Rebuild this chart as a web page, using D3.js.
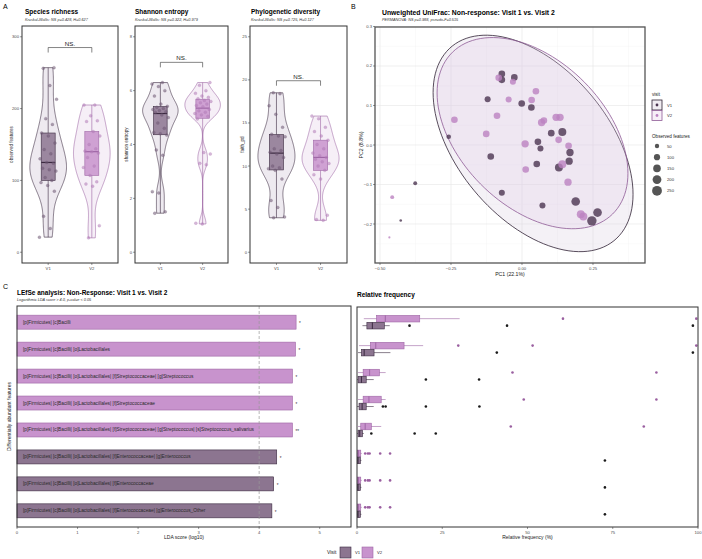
<!DOCTYPE html>
<html><head><meta charset="utf-8">
<script src="https://cdn.jsdelivr.net/npm/d3@7"></script>
<style>body{margin:0;background:#fff}svg{display:block}text{font-family:"Liberation Sans",Arial,Helvetica,sans-serif}</style>
</head><body><svg id="c" width="702" height="559"></svg>
<script>
// ---------------- DATA ----------------
const visits = ["V1", "V2"];
// Panel A alpha diversity (per-sample values)
const richnessV1 = [21,33,50,85,93,97,100,104,113,115,117,124,125,130,137,143,152,162,166,178,186,213,232,256,257];
const richnessV2 = [20,37,92,95,98,107,118,120,132,138,140,141,144,150,162,168,182,183,190,205,205];
const shannonV1 = [1.45,1.5,2.2,2.25,3.6,3.8,4.35,4.4,4.45,4.6,4.8,5.0,5.1,5.2,5.22,5.26,5.3,5.34,5.38,5.42,5.5,5.8,6.0,6.15,6.25,6.3];
const shannonV2 = [1.05,1.08,3.25,3.3,3.65,3.7,4.95,5.05,5.1,5.15,5.2,5.25,5.3,5.4,5.45,5.5,5.55,5.6,5.63,5.7,5.75,5.8,5.9,6.0,6.2,6.3];
const faithV1 = [4.0,4.1,5.2,6.0,8.5,9.5,9.7,9.8,10.0,11.0,11.4,11.6,11.8,12.0,13.4,13.5,13.7,14.5,16.0,17.0,18.4,18.5];
const faithV2 = [3.7,3.8,4.3,8.5,9.0,9.5,10.0,10.3,10.5,10.8,11.0,11.2,11.5,12.0,12.5,13.0,13.5,14.0,14.5,15.5,15.8];
const alphaTitles = ["Species richness", "Shannon entropy", "Phylogenetic diversity"];
const alphaSubtitles = ["Kruskal-Wallis: NS p=0.428, H=0.627", "Kruskal-Wallis: NS p=0.322, H=0.979", "Kruskal-Wallis: NS p=0.725, H=0.127"];
const alphaYLabels = ["observed features", "shannon entropy", "faith_pd"];
const alphaTicks = [[0,100,200,300],[0,2,4,6,8],[0,5,10,15,20,25]];
const alphaBracket = [285, 7.05, 19.9];

// Panel B PCoA
const pc1V1 = [-0.071,-0.071,-0.027,-0.121,-0.001,0.033,-0.258,0.056,0.065,0.103,0.142,-0.110,0.052,0.169,0.166,0.130,-0.071,0.072,0.189,0.266,0.246,-0.376,-0.427];
const pc2V1 = [0.180,0.165,0.171,0.116,0.105,0.095,0.021,0.008,-0.009,0.030,0.033,-0.029,-0.048,-0.019,-0.041,-0.057,-0.121,-0.153,-0.143,-0.171,-0.192,-0.097,-0.191];
const obsV1 = [115,115,115,95,115,115,55,115,95,115,165,115,115,140,140,165,95,95,195,195,230,40,18];
const pc1V2 = [-0.082,-0.032,-0.238,-0.088,-0.047,0.034,0.049,-0.126,0.069,0.077,0.120,0.134,0.011,0.129,0.164,0.013,0.142,0.162,0.207,0.216,-0.457,-0.467];
const pc2V2 = [0.170,0.160,0.064,0.074,0.115,0.114,0.136,0.028,0.057,0.062,0.070,0.070,0.003,0.013,-0.002,-0.062,-0.049,-0.094,-0.175,-0.181,-0.132,-0.234];
const obsV2 = [115,95,115,115,95,115,115,115,140,115,140,140,140,115,115,115,165,140,165,165,40,12];
// 95% ellipses: [centre PC1, centre PC2, half-extent PC1, half-extent PC2, correlation]
const ellipseV1 = [0.039, 0.004, 0.352, 0.274, -0.47];
const ellipseV2 = [0.037, 0.030, 0.336, 0.242, -0.42];
const sizeLegend = [50,100,150,200,250];
const pcXTicks = [-0.5,-0.25,0,0.25];
const pcYTicks = [-0.2,-0.1,0,0.1,0.2,0.3];

// Panel C LEfSe
const features = [
 "[p]Firmicutes| [c]Bacilli",
 "[p]Firmicutes| [c]Bacilli| [o]Lactobacillales",
 "[p]Firmicutes| [c]Bacilli| [o]Lactobacillales| [f]Streptococcaceae| [g]Streptococcus",
 "[p]Firmicutes| [c]Bacilli| [o]Lactobacillales| [f]Streptococcaceae",
 "[p]Firmicutes| [c]Bacilli| [o]Lactobacillales| [f]Streptococcaceae| [g]Streptococcus| [s]Streptococcus_salivarius",
 "[p]Firmicutes| [c]Bacilli| [o]Lactobacillales| [f]Enterococcaceae| [g]Enterococcus",
 "[p]Firmicutes| [c]Bacilli| [o]Lactobacillales| [f]Enterococcaceae",
 "[p]Firmicutes| [c]Bacilli| [o]Lactobacillales| [f]Enterococcaceae| [g]Enterococcus_Other"];
const ldaScore = [4.61,4.60,4.55,4.55,4.55,4.29,4.24,4.21];
const enrichedIn = ["V2","V2","V2","V2","V2","V1","V1","V1"];
const signif = ["*","*","*","*","**","*","*","*"];
const ldaTicks = [0,1,2,3,4,5];
// Relative frequency (%) box summaries
const rfV2Low  = [2.0,0.6,0.3,0.3,0.3,0,0,0];
const rfV2Q1   = [5.7,3.9,1.8,1.8,1.1,0.1,0.1,0.1];
const rfV2Med  = [8.3,5.5,3.7,3.5,2.4,0.4,0.4,0.4];
const rfV2Q3   = [18.4,13.8,6.6,7.1,4.2,1.1,1.1,1.1];
const rfV2High = [30.1,19.4,8.4,8.4,7.1,1.4,1.4,1.4];
const rfV2Out  = [[60.4,99.5],[29.7,51.5,99.5],[45.6,87.8],[48.9,87.8],[45.1,84.1],[2.4,3.2,3.7,6.8,9.7],[2.4,3.2,3.7,6.8,9.7],[2.4,3.2,3.7,6.8,9.7]];
const rfV1Low  = [1.6,0.3,0,0,0,0,0,0];
const rfV1Q1   = [2.9,1.3,0.3,0.6,0.3,0.1,0.1,0.1];
const rfV1Med  = [4.5,2.1,1.3,1.5,0.8,0.3,0.3,0.3];
const rfV1Q3   = [8.0,5.0,2.7,2.7,1.6,1.0,1.0,1.0];
const rfV1High = [9.6,9.8,4.9,4.9,2.0,1.3,1.3,1.3];
const rfV1Out  = [[15.4,44.0,98.5],[41.0,98.5],[20.2,35.8],[7.6,8.4,20.2,35.9],[4.2,16.9,23.1],[72.7],[72.7],[72.7]];
const rfTicks = [0,25,50,75,100];

// ---------------- STYLE ----------------
const C = {
  v1Fill: "#8c7590", v1Line: "#3b2a40", v1Light: "#eeeaf0", v1Point: "#4b3550", v1Out: "#1a1a1a",
  v2Fill: "#c893cd", v2Line: "#9e66a5", v2Light: "#f6eff7", v2Point: "#bb82c1", v2Out: "#9a5fa0",
  frame: "#333333", tick: "#4d4d4d"
};
const svg = d3.select("#c");
svg.append("rect").attr("width",702).attr("height",559).attr("fill","#fff");

function text(g, x, y, s, o = {}) {
  const t = g.append("text").attr("x", x).attr("y", y).text(s)
    .attr("font-size", o.size || 5).attr("fill", o.fill || "#000")
    .attr("text-anchor", o.anchor || "start");
  if (o.bold) t.attr("font-weight", "bold");
  if (o.italic) t.attr("font-style", "italic");
  if (o.rotate) t.attr("transform", `rotate(${o.rotate},${x},${y})`);
  if (o.baseline) t.attr("dominant-baseline", o.baseline);
  return t;
}
function frame(g, l, t, r, b) {
  g.append("rect").attr("x", l).attr("y", t).attr("width", r - l).attr("height", b - t)
    .attr("fill", "none").attr("stroke", C.frame).attr("stroke-width", 1);
}
function yAxisTicks(g, y, ticks, xLeft, fmt) {
  ticks.forEach(v => {
    g.append("line").attr("x1", xLeft - 2).attr("x2", xLeft).attr("y1", y(v)).attr("y2", y(v)).attr("stroke", C.frame).attr("stroke-width", 0.5);
    text(g, xLeft - 3, y(v), fmt ? fmt(v) : v, { size: 4.2, fill: C.tick, anchor: "end", baseline: "central" });
  });
}
function xAxisTicks(g, x, ticks, yBottom, fmt) {
  ticks.forEach(v => {
    g.append("line").attr("x1", x(v)).attr("x2", x(v)).attr("y1", yBottom).attr("y2", yBottom + 2).attr("stroke", C.frame).attr("stroke-width", 0.5);
    text(g, x(v), yBottom + 6.5, fmt ? fmt(v) : v, { size: 4.2, fill: C.tick, anchor: "middle" });
  });
}

// panel letters
text(svg, 3, 9, "A", { size: 7 });
text(svg, 351, 9, "B", { size: 7 });
text(svg, 3, 289, "C", { size: 7 });

// ---------------- PANEL A ----------------
function kde(values) {
  const v = values.slice().sort(d3.ascending);
  const sd = d3.deviation(v), iqr = d3.quantile(v, .75) - d3.quantile(v, .25);
  const bw = 0.9 * Math.min(sd, iqr / 1.34) * Math.pow(v.length, -0.2);
  const lo = v[0], hi = v[v.length - 1];
  return d3.range(200).map(i => {
    const t = lo + (hi - lo) * i / 199;
    const d = d3.mean(v, xi => Math.exp(-0.5 * ((t - xi) / bw) ** 2));
    return [t, d];
  });
}
const alphaData = [[richnessV1, richnessV2], [shannonV1, shannonV2], [faithV1, faithV2]];
const alphaFrames = [[22, 118], [135, 228], [250, 347]];
const alphaTitleX = [25, 135, 251];
const alphaYLabX = [13, 128, 244];
alphaData.forEach((pair, k) => {
  const g = svg.append("g");
  const [l, r] = alphaFrames[k];
  const top = 26, bot = 263;
  const ticks = alphaTicks[k];
  const tmax = ticks[ticks.length - 1];
  const x = d3.scaleLinear().domain([0.4, 2.6]).range([l, r]);
  const y = d3.scaleLinear().domain([-0.05 * tmax, 1.05 * tmax]).range([bot, top]);
  const unit = x(2) - x(1);
  pair.forEach((vals, gi) => {
    const cx = x(gi + 1);
    const line = gi === 0 ? C.v1Line : C.v2Line;
    const fill = gi === 0 ? C.v1Fill : C.v2Fill;
    const light = gi === 0 ? C.v1Light : C.v2Light;
    const dens = kde(vals);
    const dmax = d3.max(dens, d => d[1]);
    const hw = 0.42 * unit;
    const area = d3.area().x0(d => cx - hw * d[1] / dmax).x1(d => cx + hw * d[1] / dmax).y(d => y(d[0]));
    g.append("path").attr("d", area(dens)).attr("fill", light).attr("stroke", line).attr("stroke-width", 0.6);
    // boxplot
    const s = vals.slice().sort(d3.ascending);
    const q1 = d3.quantile(s, .25), q2 = d3.quantile(s, .5), q3 = d3.quantile(s, .75);
    const bw = 0.32 * unit;
    g.append("line").attr("x1", cx).attr("x2", cx).attr("y1", y(s[0])).attr("y2", y(q1)).attr("stroke", line).attr("stroke-width", 0.6);
    g.append("line").attr("x1", cx).attr("x2", cx).attr("y1", y(q3)).attr("y2", y(s[s.length - 1])).attr("stroke", line).attr("stroke-width", 0.6);
    g.append("rect").attr("x", cx - bw / 2).attr("width", bw).attr("y", y(q3)).attr("height", y(q1) - y(q3))
      .attr("fill", fill).attr("fill-opacity", 0.85).attr("stroke", line).attr("stroke-width", 0.6);
    g.append("line").attr("x1", cx - bw / 2).attr("x2", cx + bw / 2).attr("y1", y(q2)).attr("y2", y(q2)).attr("stroke", line).attr("stroke-width", 1.2);
    // jittered points (deterministic jitter)
    vals.forEach((v, i) => {
      const j = (((i * 0.618034 + gi * 0.31 + k * 0.17) % 1) - 0.5) * 0.4 * unit;
      g.append("circle").attr("cx", cx + j).attr("cy", y(v)).attr("r", 1.5)
        .attr("fill", gi === 0 ? "#6e5873" : "#b27bb8").attr("fill-opacity", 0.55)
        .attr("stroke", gi === 0 ? "#6e5873" : "#b27bb8").attr("stroke-opacity", 0.7).attr("stroke-width", 0.3);
    });
  });
  // bracket
  const by = y(alphaBracket[k]);
  g.append("path").attr("d", `M${x(1)},${by + 5}V${by}H${x(2)}V${by + 5}`).attr("fill", "none").attr("stroke", "#333").attr("stroke-width", 0.6);
  text(g, (x(1) + x(2)) / 2, by - 2, "NS.", { size: 6.2, anchor: "middle", fill: "#222" });
  frame(g, l, top, r, bot);
  yAxisTicks(g, y, ticks, l);
  xAxisTicks(g, x, [1, 2], bot, v => visits[v - 1]);
  text(g, alphaTitleX[k], 14, alphaTitles[k], { size: 6.5, bold: true });
  text(g, alphaTitleX[k], 21, alphaSubtitles[k], { size: 3.8, italic: true, fill: "#333" });
  text(g, alphaYLabX[k], (top + bot) / 2, alphaYLabels[k], { size: 4.6, anchor: "middle", rotate: -90, fill: "#222" });
});

// ---------------- PANEL B ----------------
(function () {
  const g = svg.append("g");
  const l = 375, r = 645, top = 27, bot = 263;
  const x = d3.scaleLinear().domain([-0.5176, 0.4331]).range([l, r]);
  const y = d3.scaleLinear().domain([-0.2987, 0.2987]).range([bot, top]);
  // grid
  d3.range(-0.5, 0.45, 0.125).forEach((v, i) => {
    g.append("line").attr("x1", x(v)).attr("x2", x(v)).attr("y1", top).attr("y2", bot)
      .attr("stroke", i % 2 ? "#f3f3f3" : "#e6e6e6").attr("stroke-width", i % 2 ? 0.4 : 0.6);
  });
  d3.range(-0.25, 0.31, 0.05).forEach((v, i) => {
    g.append("line").attr("x1", l).attr("x2", r).attr("y1", y(v)).attr("y2", y(v))
      .attr("stroke", i % 2 ? "#e6e6e6" : "#f3f3f3").attr("stroke-width", i % 2 ? 0.6 : 0.4);
  });
  function ellipse(p) {
    const [cx, cy, hx, hy, rho] = p;
    return d3.range(121).map(i => {
      const t = i / 120 * 2 * Math.PI, c = Math.cos(t), s = Math.sin(t);
      return [cx + hx * c, cy + hy * (rho * c + Math.sqrt(1 - rho * rho) * s)];
    });
  }
  const eLine = d3.line().x(d => x(d[0])).y(d => y(d[1]));
  g.append("path").attr("d", eLine(ellipse(ellipseV1))).attr("fill", "#d9cde0").attr("fill-opacity", 0.28).attr("stroke", "#2e2133").attr("stroke-width", 0.8);
  g.append("path").attr("d", eLine(ellipse(ellipseV2))).attr("fill", "#e3cde8").attr("fill-opacity", 0.28).attr("stroke", "#8e5b96").attr("stroke-width", 0.8);
  const rs = d3.scaleSqrt().domain([0, 260]).range([0, 5]);
  pc1V1.forEach((v, i) => g.append("circle").attr("cx", x(v)).attr("cy", y(pc2V1[i])).attr("r", rs(obsV1[i])).attr("fill", C.v1Point).attr("fill-opacity", 0.8));
  pc1V2.forEach((v, i) => g.append("circle").attr("cx", x(v)).attr("cy", y(pc2V2[i])).attr("r", rs(obsV2[i])).attr("fill", C.v2Point).attr("fill-opacity", 0.8));
  g.append("rect").attr("x", l).attr("y", top).attr("width", r - l).attr("height", bot - top).attr("fill", "none").attr("stroke", "#555").attr("stroke-width", 1.3);
  yAxisTicks(g, y, pcYTicks, l, d3.format(".1f"));
  xAxisTicks(g, x, pcXTicks, bot, d3.format(".2f"));
  text(g, 382, 15, "Unweighted UniFrac: Non-response: Visit 1 vs. Visit 2", { size: 6.8, bold: true });
  text(g, 382, 21, "PERMANOVA: NS p=0.988, pseudo-F=0.515", { size: 3.8, italic: true, fill: "#333" });
  text(g, (l + r) / 2, 276, "PC1 (22.1%)", { size: 5.2, anchor: "middle", fill: "#222" });
  text(g, 363, (top + bot) / 2, "PC2 (8.8%)", { size: 5.2, anchor: "middle", rotate: -90, fill: "#222" });
  // legends
  text(g, 652, 96, "visit", { size: 4.6, fill: "#222" });
  visits.forEach((v, i) => {
    const yy = 100 + i * 10.5;
    g.append("rect").attr("x", 652).attr("y", yy).attr("width", 10).attr("height", 10)
      .attr("fill", i === 0 ? "#f1edf2" : "#f7eff8").attr("stroke", i === 0 ? "#2e2133" : "#8e5b96").attr("stroke-width", 0.8);
    g.append("circle").attr("cx", 657).attr("cy", yy + 5).attr("r", 1.4).attr("fill", i === 0 ? C.v1Point : C.v2Point);
    text(g, 667, yy + 5, v, { size: 4.2, fill: "#333", baseline: "central" });
  });
  text(g, 652, 138, "Observed features", { size: 4.6, fill: "#222" });
  sizeLegend.forEach((v, i) => {
    const yy = 146 + i * 11.2;
    g.append("circle").attr("cx", 657).attr("cy", yy).attr("r", rs(v)).attr("fill", "#555");
    text(g, 667, yy, v, { size: 4.2, fill: "#333", baseline: "central" });
  });
})();

// ---------------- PANEL C ----------------
const rowY = d3.scaleLinear().domain([-0.6, 7.6]).range([306, 527]);
(function () {
  const g = svg.append("g");
  const l = 17, r = 351, top = 306, bot = 527;
  const x = d3.scaleLinear().domain([0, 5.517]).range([l, r]);
  const bh = 14;
  features.forEach((f, i) => {
    const v1 = enrichedIn[i] === "V1";
    g.append("rect").attr("x", x(0)).attr("y", rowY(i) - bh / 2).attr("width", x(ldaScore[i]) - x(0)).attr("height", bh)
      .attr("fill", v1 ? C.v1Fill : C.v2Fill).attr("stroke", v1 ? C.v1Line : C.v2Line).attr("stroke-width", 0.6);
    text(g, 23, rowY(i), f, { size: 4.8, fill: "#2a2a2a", baseline: "central" });
    text(g, x(ldaScore[i]) + 3, rowY(i) + 1.5, signif[i], { size: 4.5, fill: "#333", baseline: "central" });
  });
  g.append("line").attr("x1", x(4)).attr("x2", x(4)).attr("y1", top).attr("y2", bot).attr("stroke", "#9a9a9a").attr("stroke-width", 0.7).attr("stroke-dasharray", "3,2");
  frame(g, l, top, r, bot);
  xAxisTicks(g, x, ldaTicks, bot);
  text(g, 17, 295, "LEfSe analysis: Non-Response: Visit 1 vs. Visit 2", { size: 6.5, bold: true });
  text(g, 17, 301, "Logarithmic LDA score > 4.0, p-value < 0.05", { size: 3.8, italic: true, fill: "#333" });
  text(g, (l + r) / 2, 539, "LDA score (log10)", { size: 5, anchor: "middle", fill: "#222" });
  text(g, 11, (top + bot) / 2, "Differentially abundant features", { size: 5, anchor: "middle", rotate: -90, fill: "#222" });
})();
(function () {
  const g = svg.append("g");
  const l = 357, r = 698, top = 307, bot = 527;
  const x = d3.scaleLinear().domain([0, 100]).range([l, r]);
  const groups = [
    { off: -3.5, low: rfV2Low, q1: rfV2Q1, med: rfV2Med, q3: rfV2Q3, high: rfV2High, out: rfV2Out, fill: C.v2Fill, line: C.v2Line, oc: C.v2Out },
    { off: 3.5, low: rfV1Low, q1: rfV1Q1, med: rfV1Med, q3: rfV1Q3, high: rfV1High, out: rfV1Out, fill: C.v1Fill, line: C.v1Line, oc: C.v1Out }
  ];
  features.forEach((f, i) => {
    groups.forEach(gr => {
      const cy = rowY(i) + gr.off, h = 6.6;
      g.append("line").attr("x1", x(gr.low[i])).attr("x2", x(gr.high[i])).attr("y1", cy).attr("y2", cy).attr("stroke", gr.line).attr("stroke-width", 0.6);
      g.append("rect").attr("x", x(gr.q1[i])).attr("y", cy - h / 2).attr("width", Math.max(0.8, x(gr.q3[i]) - x(gr.q1[i]))).attr("height", h)
        .attr("fill", gr.fill).attr("stroke", gr.line).attr("stroke-width", 0.6);
      g.append("line").attr("x1", x(gr.med[i])).attr("x2", x(gr.med[i])).attr("y1", cy - h / 2).attr("y2", cy + h / 2).attr("stroke", gr.line).attr("stroke-width", 1);
      gr.out[i].forEach(o => g.append("circle").attr("cx", x(o)).attr("cy", cy).attr("r", 1.3).attr("fill", gr.oc));
    });
  });
  frame(g, l, top, r, bot);
  xAxisTicks(g, x, rfTicks, bot);
  text(g, 357, 297, "Relative frequency", { size: 6.5, bold: true });
  text(g, (l + r) / 2, 539, "Relative frequency (%)", { size: 5, anchor: "middle", fill: "#222" });
})();
// bottom legend
(function () {
  const g = svg.append("g");
  text(g, 327, 553.5, "Visit", { size: 5, fill: "#222" });
  visits.forEach((v, i) => {
    const xx = 340 + i * 22;
    g.append("rect").attr("x", xx).attr("y", 547).attr("width", 11).attr("height", 11)
      .attr("fill", i === 0 ? C.v1Fill : C.v2Fill).attr("stroke", i === 0 ? C.v1Line : C.v2Line).attr("stroke-width", 0.6);
    text(g, xx + 15, 553.5, v, { size: 4.2, fill: "#333" });
  });
})();
</script></body></html>
